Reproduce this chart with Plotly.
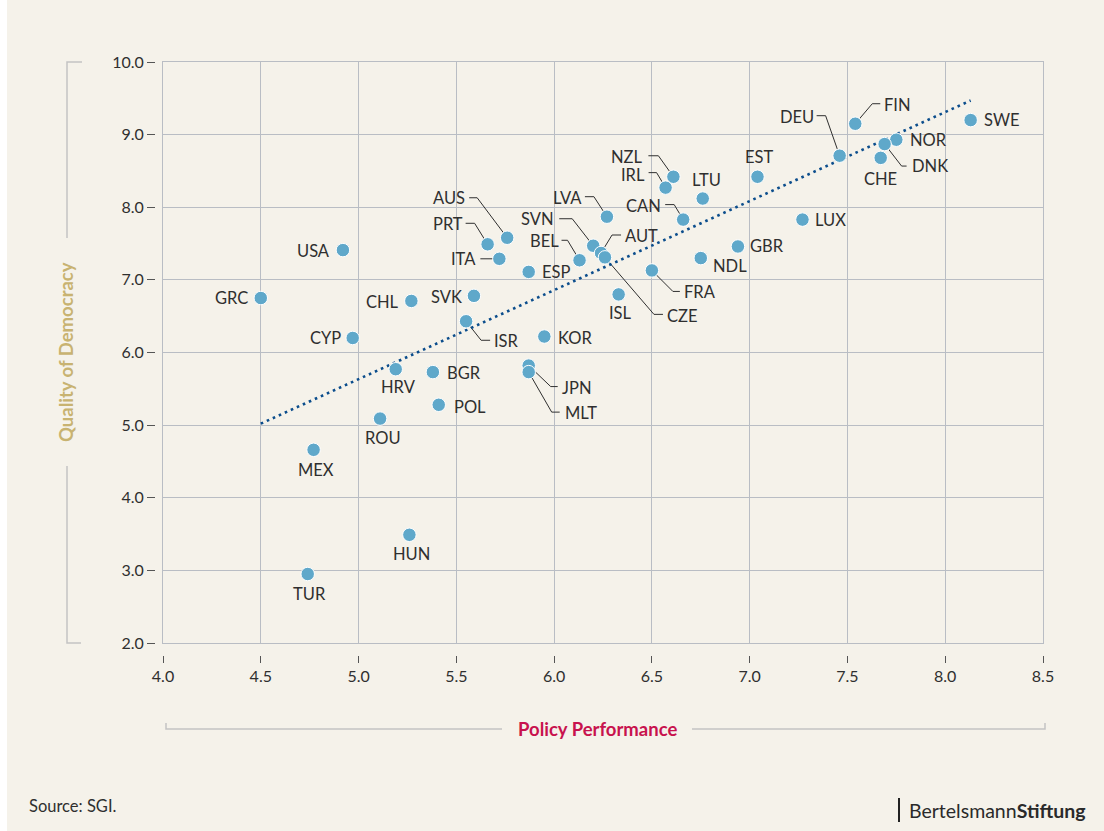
import plotly.graph_objects as go

# ---------------- data ----------------
codes = ["SWE", "FIN", "NOR", "CHE", "DNK", "DEU", "LUX", "EST", "NZL", "IRL",
         "LTU", "CAN", "LVA", "SVN", "AUT", "CZE", "BEL", "GBR", "NDL", "FRA",
         "ISL", "AUS", "PRT", "ITA", "ESP", "SVK", "ISR", "KOR", "CHL", "USA",
         "GRC", "CYP", "HRV", "BGR", "POL", "ROU", "MEX", "HUN", "TUR", "JPN", "MLT"]
policy = [8.13, 7.54, 7.75, 7.67, 7.69, 7.46, 7.27, 7.04, 6.61, 6.57,
          6.76, 6.66, 6.27, 6.20, 6.24, 6.26, 6.13, 6.94, 6.75, 6.50,
          6.33, 5.76, 5.66, 5.72, 5.87, 5.59, 5.55, 5.95, 5.27, 4.92,
          4.50, 4.97, 5.19, 5.38, 5.41, 5.11, 4.77, 5.26, 4.74, 5.87, 5.87]
democracy = [9.20, 9.15, 8.93, 8.68, 8.87, 8.71, 7.83, 8.42, 8.42, 8.27,
             8.12, 7.83, 7.87, 7.47, 7.37, 7.31, 7.27, 7.46, 7.30, 7.13,
             6.80, 7.58, 7.49, 7.29, 7.11, 6.78, 6.43, 6.22, 6.71, 7.41,
             6.75, 6.20, 5.77, 5.73, 5.28, 5.09, 4.66, 3.49, 2.95, 5.82, 5.73]
trend_x = [4.50, 8.13]
trend_y = [5.02, 9.47]
x_ticks = [4.0, 4.5, 5.0, 5.5, 6.0, 6.5, 7.0, 7.5, 8.0, 8.5]
x_tick_text = ["4.0", "4.5", "5.0", "5.5", "6.0", "6.5", "7.0", "7.5", "8.0", "8.5"]
y_ticks = [2.0, 3.0, 4.0, 5.0, 6.0, 7.0, 8.0, 9.0, 10.0]
y_tick_text = ["2.0", "3.0", "4.0", "5.0", "6.0", "7.0", "8.0", "9.0", "10.0"]

# ---------------- label placement (pixel offsets, y down) ----------------
# code: (xanchor, dx, dy, leader polyline or None)
label_pos = {
    "SWE": ("left", 11, 0, None),
    "FIN": ("left", 27, -19, [(0, 0), (17, -20), (25, -20)]),
    "NOR": ("left", 12, 0, None),
    "DNK": ("left", 25, 22, [(0, 0), (17, 22), (22, 22)]),
    "CHE": ("center", 0, 21, None),
    "DEU": ("right", -24, -39, [(0, 0), (-14, -40), (-23, -40)]),
    "LUX": ("left", 11, 0, None),
    "EST": ("center", 2, -20, None),
    "NZL": ("right", -28, -20, [(0, 0), (-15, -21), (-25, -21)]),
    "IRL": ("right", -19, -13, [(0, 0), (-9, -15), (-17, -15)]),
    "LTU": ("center", 4, -19, None),
    "CAN": ("right", -20, -14, [(0, 0), (-9, -15), (-18, -15)]),
    "LVA": ("right", -23, -19, [(0, 0), (-13, -20), (-22, -20)]),
    "SVN": ("right", -37, -27, [(0, 0), (-21, -27), (-34, -27)]),
    "AUT": ("left", 22, -17, [(0, 0), (11, -18), (20, -18)]),
    "CZE": ("left", 60, 59, [(0, 0), (49, 57), (58, 57)]),
    "BEL": ("right", -19, -19, [(0, 0), (-12, -20), (-18, -20)]),
    "GBR": ("left", 10, 0, None),
    "NDL": ("left", 10, 8, None),
    "FRA": ("left", 30, 22, [(0, 0), (21, 21), (28, 21)]),
    "ISL": ("center", 2, 19, None),
    "AUS": ("right", -40, -40, [(0, 0), (-30, -40), (-38, -40)]),
    "PRT": ("right", -23, -20, [(0, 0), (-13, -21), (-22, -21)]),
    "ITA": ("right", -21, 0, [(0, 0), (-19, 0)]),
    "ESP": ("left", 11, 0, None),
    "SVK": ("right", -10, 1, None),
    "ISR": ("left", 26, 20, [(0, 0), (15, 19), (24, 19)]),
    "KOR": ("left", 12, 1, None),
    "CHL": ("right", -10, 1, None),
    "USA": ("right", -11, 1, None),
    "GRC": ("right", -11, 0, None),
    "CYP": ("right", -10, 0, None),
    "HRV": ("center", 3, 18, None),
    "BGR": ("left", 12, 1, None),
    "POL": ("left", 13, 2, None),
    "ROU": ("center", 3, 19, None),
    "MEX": ("center", 2, 20, None),
    "HUN": ("center", 2, 19, None),
    "TUR": ("center", 2, 20, None),
    "JPN": ("left", 31, 22, [(0, 0), (22, 21), (29, 21)]),
    "MLT": ("left", 34, 41, [(0, 0), (23, 40), (31, 40)]),
}

# ---------------- styles ----------------
W, H = 1104, 831
BG = "#f5f2ea"
GRID = "#b9bdc4"
TICK = "#555555"
TXT = "#2f2f2f"
DOT = "#5fa8ca"
TREND = "#0b4d8c"
FONT = "Lato"

ML, MR, MT, MB = 130, 61, 62, 170
PW = W - ML - MR
PH = H - MT - MB


def px(x):
    return (x - ML) / PW


def py(y):
    return (H - MB - y) / PH


xd0 = px(163)
yd0 = py(643)

fig = go.Figure()

fig.add_trace(go.Scatter(
    x=trend_x, y=trend_y, mode="lines",
    line=dict(color=TREND, width=2.6, dash="2.6px,4px"),
    hoverinfo="skip", showlegend=False))

fig.add_trace(go.Scatter(
    x=policy, y=democracy, mode="markers", text=codes,
    marker=dict(size=13.5, color=DOT, line=dict(color="white", width=1)),
    hovertemplate="%{text}: %{x}, %{y}<extra></extra>", showlegend=False))

# invisible trace to carry the offset tick axes
fig.add_trace(go.Scatter(
    x=[x_ticks[0]], y=[y_ticks[0]], xaxis="x2", yaxis="y2", mode="markers",
    marker=dict(opacity=0), hoverinfo="skip", showlegend=False))

annotations = []
shapes = []
for code, xv, yv in zip(codes, policy, democracy):
    anchor, dx, dy, leader = label_pos[code]
    annotations.append(dict(
        x=xv, y=yv, xref="x", yref="y", text=code, showarrow=False,
        xanchor=anchor, yanchor="middle", xshift=dx, yshift=-dy,
        font=dict(family=FONT, size=16.5, color=TXT)))
    if leader:
        path = "M " + " L ".join(f"{a},{-b}" for a, b in leader)
        shapes.append(dict(
            type="path", xref="x", yref="y", xsizemode="pixel", ysizemode="pixel",
            xanchor=xv, yanchor=yv, path=path, layer="between",
            line=dict(color=TXT, width=1)))

# axis-title brackets
BR = "#c3c3c3"
shapes += [
    dict(type="path", xref="paper", yref="paper",
         path=f"M {px(82)},{py(62)} L {px(67)},{py(62)} L {px(67)},{py(238)}",
         line=dict(color=BR, width=1.5)),
    dict(type="path", xref="paper", yref="paper",
         path=f"M {px(67)},{py(466)} L {px(67)},{py(643)} L {px(81)},{py(643)}",
         line=dict(color=BR, width=1.5)),
    dict(type="path", xref="paper", yref="paper",
         path=f"M {px(166)},{py(723)} L {px(166)},{py(729)} L {px(502)},{py(729)}",
         line=dict(color=BR, width=1.5)),
    dict(type="path", xref="paper", yref="paper",
         path=f"M {px(692)},{py(729)} L {px(1045)},{py(729)} L {px(1045)},{py(723)}",
         line=dict(color=BR, width=1.5)),
    # logo bar
    dict(type="line", xref="paper", yref="paper",
         x0=px(899), x1=px(899), y0=py(798), y1=py(822),
         line=dict(color="#222222", width=2)),
    # white strip at far left
    dict(type="rect", xref="paper", yref="paper",
         x0=px(0), x1=px(7), y0=py(0), y1=py(H),
         fillcolor="white", line=dict(width=0), layer="below"),
]

annotations += [
    dict(text="<b>Quality of Democracy</b>", xref="paper", yref="paper",
         x=px(66), y=py(352), textangle=-90, showarrow=False,
         xanchor="center", yanchor="middle",
         font=dict(family=FONT, size=18.5, color="#c8b371")),
    dict(text="<b>Policy Performance</b>", xref="paper", yref="paper",
         x=px(597), y=py(729), showarrow=False,
         xanchor="center", yanchor="middle",
         font=dict(family=FONT, size=18.5, color="#c8124e")),
    dict(text="Source: SGI.", xref="paper", yref="paper",
         x=px(27), y=py(806), showarrow=False,
         xanchor="left", yanchor="middle",
         font=dict(family=FONT, size=16.5, color=TXT)),
    dict(text="Bertelsmann<b>Stiftung</b>", xref="paper", yref="paper",
         x=px(1088), y=py(811), showarrow=False,
         xanchor="right", yanchor="middle",
         font=dict(family=FONT, size=19.5, color="#2a2a2a")),
]

axis_common = dict(showgrid=True, gridcolor=GRID, gridwidth=1, showline=True,
                   linecolor=GRID, linewidth=1, mirror=True, zeroline=False,
                   ticks="", showticklabels=False)

fig.update_layout(
    width=W, height=H,
    margin=dict(l=ML, r=MR, t=MT, b=MB, autoexpand=False),
    paper_bgcolor=BG, plot_bgcolor=BG,
    font=dict(family=FONT, color=TXT),
    xaxis=dict(domain=[xd0, 1], range=[4, 8.5], tickvals=x_ticks, **axis_common),
    yaxis=dict(domain=[yd0, 1], range=[2, 10], tickvals=y_ticks, **axis_common),
    xaxis2=dict(overlaying="x", anchor="free", position=py(655), range=[4, 8.5],
                tickvals=x_ticks, ticktext=x_tick_text, ticks="outside", ticklen=7,
                tickcolor=TICK, tickwidth=1, showline=False, showgrid=False,
                zeroline=False, side="bottom",
                tickfont=dict(family=FONT, size=16, color=TXT)),
    yaxis2=dict(overlaying="y", anchor="free", position=px(155), range=[2, 10],
                tickvals=y_ticks, ticktext=y_tick_text, ticks="outside", ticklen=8,
                tickcolor=TICK, tickwidth=1, showline=False, showgrid=False,
                zeroline=False, side="left",
                tickfont=dict(family=FONT, size=16, color=TXT)),
    annotations=annotations,
    shapes=shapes,
    showlegend=False,
    hovermode="closest",
)

fig.write_html(
    "out.html",
    config={"displayModeBar": False},
    post_script="document.body.style.margin='0';document.body.style.overflow='hidden';",
)
